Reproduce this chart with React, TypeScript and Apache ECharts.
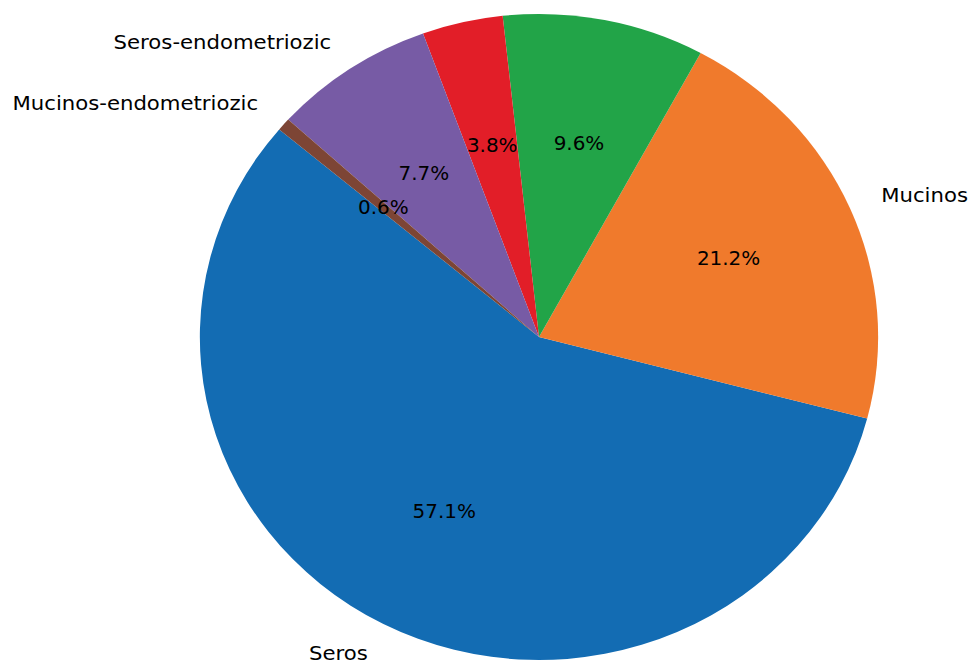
import React, { useEffect, useRef } from "react";
import * as echarts from "echarts";

// Slice names (labels of the two small top slices fall outside the picture)
const categories = ["Seros", "Mucinos", "", "", "Seros-endometriozic", "Mucinos-endometriozic"];
// Counts (n = 156) giving 57.1 / 21.2 / 9.6 / 3.8 / 7.7 / 0.6 %
const counts = [89, 33, 15, 6, 12, 1];
const colors = ["#136cb3", "#f07a2c", "#22a448", "#e21e28", "#775ba5", "#7d4535"];

const STRETCH = 1.05; // the reference pie is slightly wider than tall
const W = 968 / STRETCH;
const H = 663;
const CX = 539 / STRETCH;
const CY = 337;
const R = 323;
const FONT = "DejaVu Sans";

export default function App() {
  const ref = useRef<HTMLDivElement>(null);

  useEffect(() => {
    const chart = echarts.init(ref.current!, null, { renderer: "svg" });
    chart.setOption({
      animation: false,
      backgroundColor: "#ffffff",
      series: [
        {
          type: "pie",
          radius: [0, R],
          center: [CX, CY],
          startAngle: 140,
          clockwise: false,
          avoidLabelOverlap: false,
          silent: true,
          label: {
            show: true,
            position: "outside",
            formatter: "{b}",
            color: "#000",
            fontSize: 20.2,
            fontFamily: FONT,
            distanceToLabelLine: 0,
          },
          labelLine: { show: false, length: R * 0.1, length2: 0 },
          emphasis: { disabled: true },
          data: counts.map((v, i) => ({
            value: v,
            name: categories[i],
            itemStyle: { color: colors[i] },
            label: { show: categories[i] !== "" },
          })),
        },
        {
          type: "pie",
          radius: [0, R * 1.2],
          center: [CX, CY],
          startAngle: 140,
          clockwise: false,
          avoidLabelOverlap: false,
          silent: true,
          percentPrecision: 1,
          itemStyle: { color: "transparent" },
          label: {
            show: true,
            position: "inside",
            formatter: "{d}%",
            color: "#000",
            fontSize: 19,
            fontFamily: FONT,
          },
          labelLine: { show: false },
          emphasis: { disabled: true },
          data: counts.map((v, i) => ({ value: v, name: "pct" + i })),
        },
      ],
    });
    return () => chart.dispose();
  }, []);

  return (
    <div
      ref={ref}
      style={{
        position: "fixed",
        left: 0,
        top: 0,
        width: W,
        height: H,
        transform: `scaleX(${STRETCH})`,
        transformOrigin: "0 0",
        background: "#fff",
      }}
    />
  );
}
